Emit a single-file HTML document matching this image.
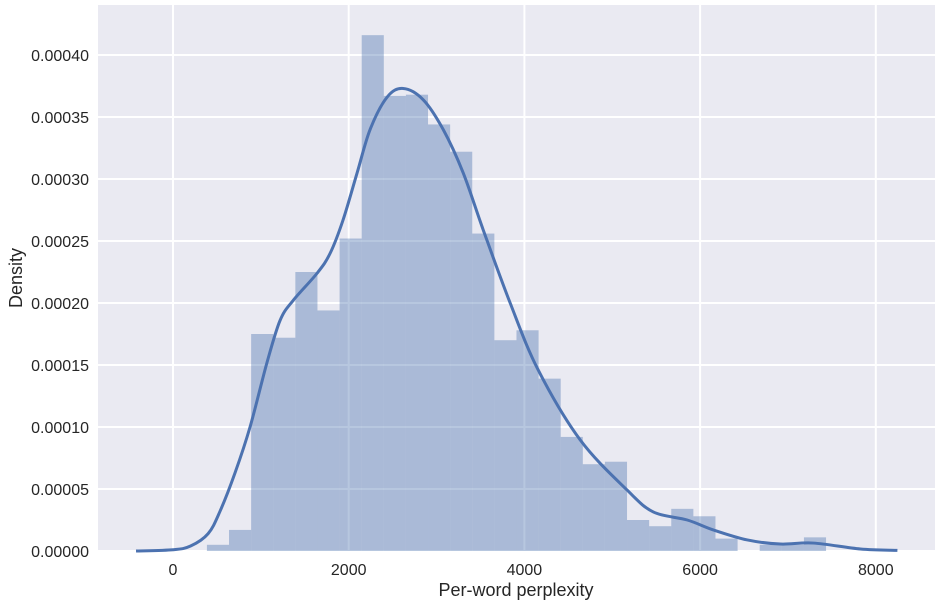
<!DOCTYPE html>
<html><head><meta charset="utf-8"><style>
body{margin:0;background:#fff;}
svg{display:block;font-family:"Liberation Sans",Arial,sans-serif;}
</style></head><body>
<svg id="chart" width="942" height="606">
<rect x="98" y="5" width="837" height="546" fill="#EAEAF2"/>
<g id="grid"></g><g id="bars"></g><g id="kde"></g><g id="ticks"></g>
<text x="516" y="596" font-size="18" text-anchor="middle" fill="#262626">Per-word perplexity</text>
<text transform="translate(22,278) rotate(-90)" font-size="18" text-anchor="middle" fill="#262626">Density</text>
</svg>
<script>
const binStart = 386;
const binWidth = 251.7;
const binValues = [0.000005,0.000017,0.000175,0.000172,0.000225,0.000194,0.000252,0.000416,0.000367,0.000368,0.000344,0.000322,0.000256,0.000170,0.000178,0.000139,0.000092,0.000070,0.000072,0.000025,0.000020,0.000034,0.000028,0.000010,0,0.000005,0.000005,0.000011];
const kdeX = [-421,0,200,400,535,706,877,1070,1219,1367,1640,1788,1936,2096,2244,2437,2620,2847,3075,3303,3531,3838,4157,4636,5171,5467,5854,6150,6538,6913,7289,7825,8246];
const kdeY = [0,0.000001,0.000004,0.000014,0.000032,0.000063,0.0001,0.000152,0.000186,0.000202,0.000224,0.00024,0.000267,0.000305,0.00034,0.000366,0.000373,0.000364,0.00034,0.000305,0.000259,0.000200,0.000146,0.0000895,0.000049,0.0000315,0.000025,0.000017,0.0000089,0.0000056,0.0000064,0.0000016,0.0000005];
const xTicks = [0,2000,4000,6000,8000];
const xTickLabels = ["0","2000","4000","6000","8000"];
const yTicks = [0,0.00005,0.0001,0.00015,0.0002,0.00025,0.0003,0.00035,0.0004];
const yTickLabels = ["0.00000","0.00005","0.00010","0.00015","0.00020","0.00025","0.00030","0.00035","0.00040"];

const NS="http://www.w3.org/2000/svg";
const sx=v=>173+v*0.08785;
const sy=v=>551-v*1240000;
function mk(tag,attrs,parent){const e=document.createElementNS(NS,tag);for(const k in attrs)e.setAttribute(k,attrs[k]);parent.appendChild(e);return e;}
const grid=document.getElementById('grid'),bars=document.getElementById('bars'),kde=document.getElementById('kde'),ticks=document.getElementById('ticks');
xTicks.forEach((t,i)=>{
  const l=mk('line',{x1:sx(t),x2:sx(t),y1:5,y2:551,stroke:'#fff','stroke-width':2},grid);
  
  
  const tx=mk('text',{x:sx(t),y:575,'font-size':16,'text-anchor':'middle',fill:'#262626'},ticks);
  tx.textContent=xTickLabels[i];
  
  
});
yTicks.forEach((t,i)=>{
  const l=mk('line',{x1:98,x2:935,y1:sy(t),y2:sy(t),stroke:'#fff','stroke-width':2},grid);
  
  
  const tx=mk('text',{x:89,y:sy(t)+6,'font-size':16,'text-anchor':'end',fill:'#262626'},ticks);
  tx.textContent=yTickLabels[i];
  
  
});
binValues.forEach((v,i)=>{
  if(v<=0)return;
  const x0=sx(binStart+i*binWidth),x1=sx(binStart+(i+1)*binWidth);
  const r=mk('rect',{x:x0,y:sy(v),width:x1-x0,height:551-sy(v),fill:'#4C72B0','fill-opacity':0.4},bars);
  
  
});
const pts=kdeX.map((x,i)=>[sx(x),sy(kdeY[i])]);
let d=`M${pts[0][0]},${pts[0][1]}`;
for(let i=0;i<pts.length-1;i++){
  const p0=pts[Math.max(0,i-1)],p1=pts[i],p2=pts[i+1],p3=pts[Math.min(pts.length-1,i+2)];
  const c1=[p1[0]+(p2[0]-p0[0])/6,p1[1]+(p2[1]-p0[1])/6];
  const c2=[p2[0]-(p3[0]-p1[0])/6,p2[1]-(p3[1]-p1[1])/6];
  d+=` C${c1[0]},${c1[1]} ${c2[0]},${c2[1]} ${p2[0]},${p2[1]}`;
}
const path=mk('path',{d:d,fill:'none',stroke:'#4C72B0','stroke-width':3,'stroke-linejoin':'round'},kde);


</script>
</body></html>
